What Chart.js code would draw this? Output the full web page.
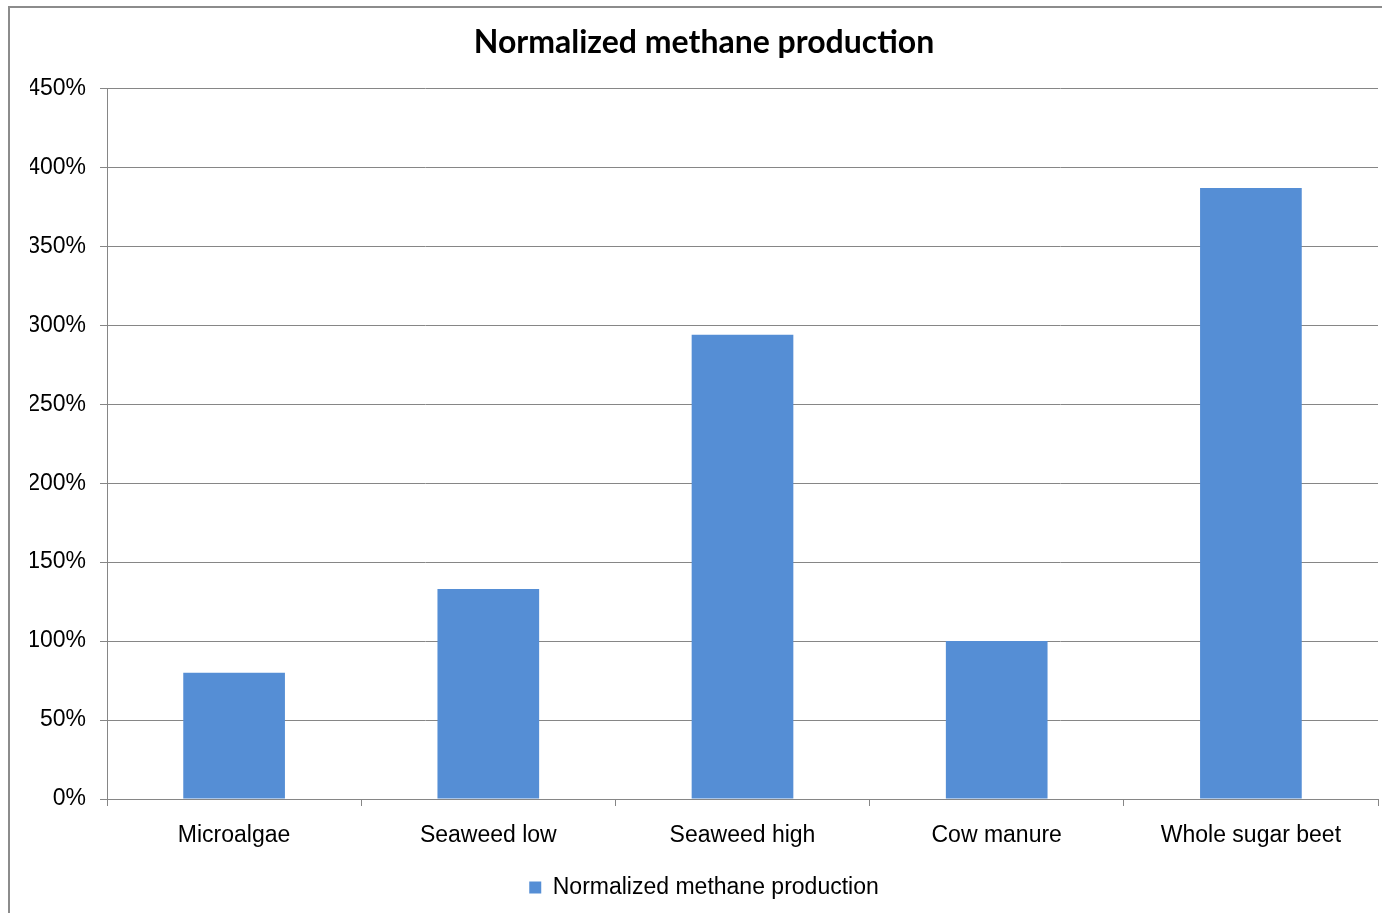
<!DOCTYPE html>
<html>
<head>
<meta charset="utf-8">
<script src="https://cdn.jsdelivr.net/npm/chart.js@4"></script>
<style>
  html, body { margin: 0; padding: 0; background: #fff; }
  #wrap { width: 1382px; height: 913px; position: relative; }
</style>
</head>
<body>
<div id="wrap"><canvas id="methaneChart"></canvas></div>
<script>
// 데이터
const categories = ['Microalgae', 'Seaweed low', 'Seaweed high', 'Cow manure', 'Whole sugar beet'];
const methaneValues = [80, 133, 294, 100, 387];
const seriesName = 'Normalized methane production';
const yMax = 450;
const yStep = 50;

const gridColor = '#868686';

// 바깥 테두리
const outerBorder = {
    id: 'outerBorder',
    beforeDraw(chart) {
        const ctx = chart.ctx;
        ctx.save();
        ctx.strokeStyle = '#8c8c8c';
        ctx.lineWidth = 2;
        ctx.strokeRect(9, 7, 1400, 1000);
        ctx.restore();
    }
};

const ChartA = document.getElementById('methaneChart');
const methaneChart = new Chart(ChartA, {
    type: 'bar',
    data: {
        labels: categories,
        datasets: [{
            label: seriesName,
            data: methaneValues,
            backgroundColor: '#558ED5',
            borderWidth: 0,
            barPercentage: 1,
            categoryPercentage: 0.4
        }]
    },
    options: {
        responsive: true,
        maintainAspectRatio: false,
        animation: false,
        layout: {
            padding: { left: 30, right: 4, top: 14, bottom: 4 }
        },
        scales: {
            x: {
                grid: {
                    offset: true,
                    drawOnChartArea: false,
                    drawTicks: true,
                    tickLength: 7,
                    color: gridColor
                },
                border: { display: true, color: gridColor },
                ticks: {
                    color: '#000',
                    font: { family: 'Liberation Sans', size: 23 },
                    padding: 16
                },
                afterFit: (scale) => { scale.height = 65; }
            },
            y: {
                min: 0,
                max: yMax,
                grid: {
                    color: gridColor,
                    tickLength: 7
                },
                border: { display: true, color: gridColor },
                ticks: {
                    stepSize: yStep,
                    color: '#000',
                    font: { family: 'Liberation Sans', size: 23 },
                    padding: 14,
                    callback: (v) => v + '%'
                },
                afterFit: (scale) => { scale.width = 77; }
            }
        },
        plugins: {
            legend: {
                display: true,
                position: 'bottom',
                labels: {
                    boxWidth: 12,
                    boxHeight: 12,
                    color: '#000',
                    padding: 12,
                    font: { family: 'Liberation Sans', size: 23 }
                }
            },
            title: {
                display: true,
                position: 'top',
                text: 'Normalized methane production',
                color: '#000',
                font: { family: 'Lato', size: 32, weight: 'bold' },
                padding: { top: 9, bottom: 27 }
            },
            tooltip: { enabled: false }
        }
    },
    plugins: [outerBorder]
});
</script>
</body>
</html>
